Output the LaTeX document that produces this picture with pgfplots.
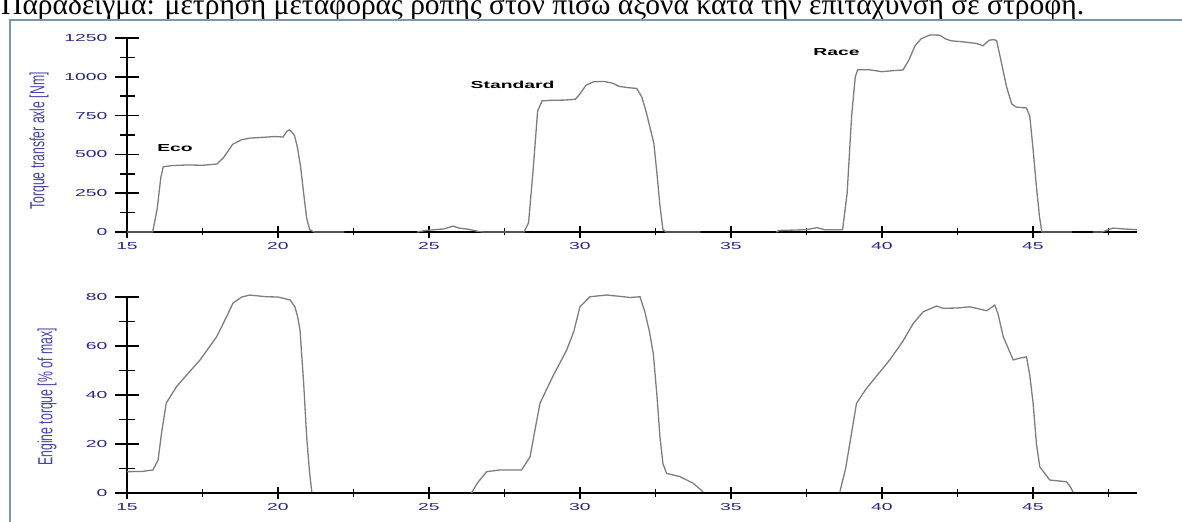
\documentclass[border=0pt]{standalone}
\usepackage{pgfplots}
\pgfplotsset{compat=1.18}
\usepackage{graphicx}
\usepackage{fontspec}
\setmainfont{Liberation Serif}
\newfontfamily\tickfont[FakeStretch=1.9]{Liberation Sans}
\newfontfamily\labfont[FakeStretch=0.6]{Liberation Sans}
\definecolor{ticklab}{RGB}{40,40,130}
\definecolor{ylab}{RGB}{70,70,170}
\definecolor{trace}{RGB}{125,125,125}
\definecolor{framec}{RGB}{125,150,172}
\pgfplotsset{
  myax/.style={
    scale only axis, anchor=south west,
    width=1010bp,
    xmin=15, xmax=48.45,
    axis x line=bottom, axis y line=left,
    axis line style={-, black, line width=1.2bp},
    every outer x axis line/.append style={-},
    every outer y axis line/.append style={-},
    every inner x axis line/.append style={-},
    every inner y axis line/.append style={-},
    tick align=center,
    tick style={black, line width=1.5bp},
    xtick={15,20,25,30,35,40,45},
    minor xtick={17.5,22.5,27.5,32.5,37.5,42.5,47.5},
    xtick style={/pgfplots/major tick length=12bp, /pgfplots/minor tick length=7bp},
    ytick style={/pgfplots/major tick length=24bp, /pgfplots/minor tick length=15bp},
    /pgf/number format/assume math mode=true,
    /pgf/number format/1000 sep={},
    tick label style={font=\tickfont\fontsize{10.2}{12}\selectfont, text=ticklab},
    yticklabel style={xshift=-14bp},
    xticklabel style={yshift=-5bp},
    clip=false,
    y label style={font=\labfont\fontsize{20.5}{22}\selectfont, text=ylab, anchor=center, rotate=0},
  }
}
\begin{document}
\begin{tikzpicture}
\useasboundingbox (0,0) rectangle (1182bp,522bp);
\node[anchor=base west, inner sep=0pt] at (1bp,507bp) {\resizebox{1083bp}{!}{Παράδειγμα: μέτρηση μεταφοράς ροπής στον πίσω άξονα κατά την επιτάχυνση σε στροφή.}};
\draw[framec, line width=2.5bp] (10bp,0bp) -- (10bp,502bp) -- (1182bp,502bp);

\begin{axis}[myax, at={(127bp,290bp)}, height=194bp,
  ymin=0, ymax=1250,
  ytick={0,250,500,750,1000,1250},
  minor ytick={125,375,625,875,1125},
  ylabel={Torque transfer axle [Nm]},
  ylabel style={at={(axis description cs:-0.0871,0.469)}},
]
\addplot[trace, line width=1.3bp] coordinates {
(15.0,0) (15.85,0) (16.0,150) (16.12,350) (16.2,420) (16.5,428) (17.0,432) (17.5,430)
(17.98,438) (18.2,480) (18.5,565) (18.8,595) (19.07,605) (19.5,610) (19.9,615) (20.17,612)
(20.3,650) (20.38,658) (20.48,640) (20.55,620) (20.65,540) (20.75,420) (20.85,250) (20.95,90)
(21.05,15) (21.2,0) (22.2,0)
};
\addplot[trace, line width=1.3bp] coordinates {
(24.6,0) (24.9,10) (25.2,15) (25.5,20) (25.8,38) (26.0,25) (26.3,18) (26.6,5) (26.8,0)
(28.15,0) (28.3,60) (28.45,400) (28.6,780) (28.75,845) (29.0,848) (29.5,850) (29.85,855)
(30.0,890) (30.2,945) (30.45,968) (30.8,970) (31.1,958) (31.3,938) (31.6,930) (31.88,925)
(32.05,870) (32.2,770) (32.35,650) (32.45,570) (32.55,380) (32.65,170) (32.75,15) (32.85,0) (34.0,0)
};
\addplot[trace, line width=1.3bp] coordinates {
(36.5,0) (36.6,10) (37.0,12) (37.5,15) (37.85,28) (38.1,15) (38.4,15) (38.7,15)
(38.85,250) (39.0,750) (39.12,1000) (39.2,1045) (39.6,1045) (40.0,1033) (40.4,1040) (40.7,1044)
(40.9,1110) (41.1,1200) (41.3,1245) (41.6,1270) (41.92,1268) (42.1,1245) (42.3,1232) (42.7,1225)
(43.13,1215) (43.35,1200) (43.55,1235) (43.7,1240) (43.8,1233) (43.95,1100) (44.13,936) (44.3,825)
(44.45,805) (44.79,799) (44.9,745) (45.0,550) (45.12,292) (45.22,100) (45.3,0) (46.3,0)
};
\addplot[trace, line width=1.3bp] coordinates {
(47.0,0) (47.3,0) (47.5,15) (47.65,25) (48.0,20) (48.45,15)
};
\node[font=\tickfont\bfseries\fontsize{10.2}{12}\selectfont] at (axis cs:16.59,538) {Eco};
\node[font=\tickfont\bfseries\fontsize{10.2}{12}\selectfont] at (axis cs:27.77,947) {Standard};
\node[font=\tickfont\bfseries\fontsize{10.2}{12}\selectfont] at (axis cs:38.5,1160) {Race};
\end{axis}

\begin{axis}[myax, at={(127bp,29bp)}, height=196bp,
  ymin=0, ymax=80,
  ytick={0,20,40,60,80},
  minor ytick={10,30,50,70},
  ylabel={Engine torque [\% of max]},
  ylabel style={at={(axis description cs:-0.079,0.49)}},
]
\addplot[trace, line width=1.3bp] coordinates {
(15.0,8.7) (15.5,8.8) (15.86,9.4) (16.03,13.5) (16.15,25) (16.3,36.7) (16.64,43.4) (17.0,48.5)
(17.42,54.3) (17.97,63.8) (18.3,72) (18.51,77.5) (18.8,80) (19.07,80.8) (19.62,80.1) (20.0,80)
(20.4,78.8) (20.56,76) (20.65,72) (20.73,66.5) (20.85,45) (20.95,23) (21.05,8) (21.12,0.5)
};
\addplot[trace, line width=1.3bp] coordinates {
(26.41,0) (26.6,4) (26.91,8.7) (27.35,9.4) (28.07,9.4) (28.35,14.8) (28.5,25) (28.68,36.7)
(29.1,47.5) (29.56,58.3) (29.8,66) (30.0,76) (30.33,80.1) (30.88,80.8) (31.3,80.3) (31.66,79.8)
(31.99,80.1) (32.15,74) (32.3,66) (32.43,57) (32.55,40) (32.65,23) (32.75,12) (32.87,8)
(33.31,6.7) (33.75,4) (34.08,0.5)
};
\addplot[trace, line width=1.3bp] coordinates {
(38.61,0.5) (38.8,10) (38.94,20.3) (39.16,36.6) (39.49,42.7) (40.26,54.3) (40.7,62) (41.04,69.2)
(41.37,74) (41.81,76.3) (42.03,75.4) (42.5,75.5) (42.91,76) (43.2,75.2) (43.47,74.4) (43.74,76.7)
(43.85,73) (44.02,63.8) (44.35,54.3) (44.55,55) (44.79,55.6) (44.9,48) (45.01,36.6) (45.12,20)
(45.23,10.7) (45.56,5.3) (46.11,4.6) (46.22,3) (46.33,0.5)
};
\end{axis}
\end{tikzpicture}
\end{document}
